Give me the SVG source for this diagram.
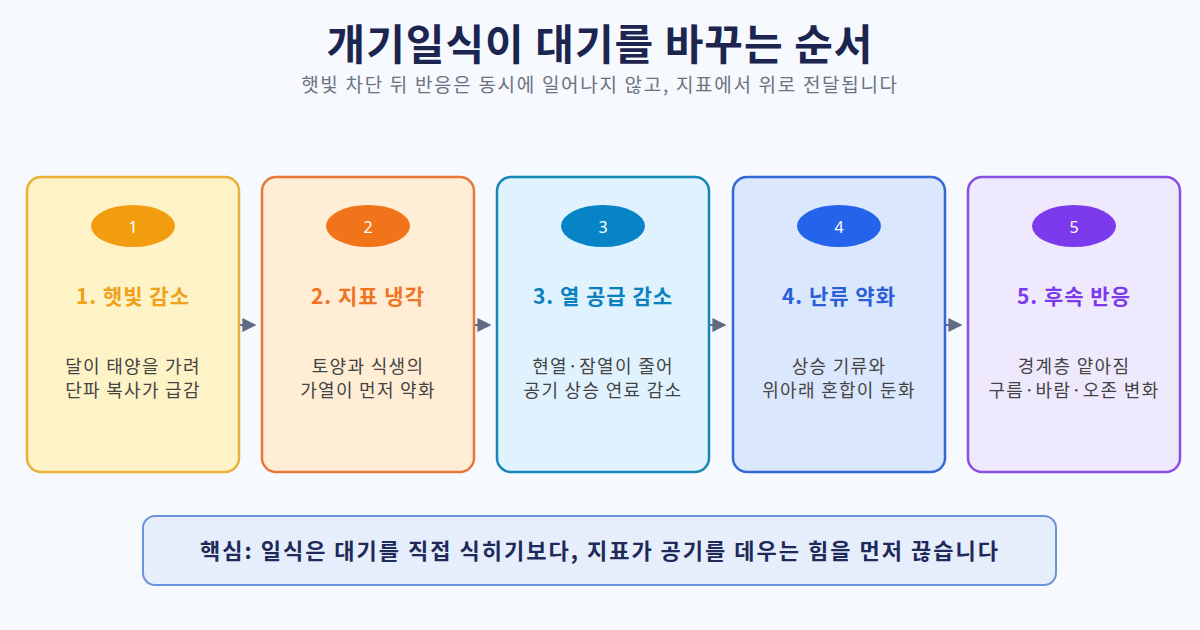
<svg xmlns="http://www.w3.org/2000/svg" width="1200" height="630" viewBox="0 0 1200 630">
<defs>
<style>
.t{font-family:"Noto Sans CJK KR","Noto Sans",sans-serif}
.card{stroke-width:2.5}
.num{font-family:"Noto Sans","Noto Sans CJK KR",sans-serif;font-size:16px;fill:#fff;text-anchor:middle;dominant-baseline:central}
.hd{font-size:21px;font-weight:700;text-anchor:middle;letter-spacing:1px}
.ds{font-size:18px;fill:#444;text-anchor:middle;letter-spacing:1.3px}
</style>
<marker id="ah" viewBox="0 0 10 10" refX="9" refY="5" markerWidth="14" markerHeight="14" markerUnits="userSpaceOnUse" orient="auto">
<path d="M0,0 L10,5 L0,10 Z" fill="#5f6b85"/>
</marker>
</defs>
<rect width="1200" height="630" fill="#f6f9fd"/>
<text class="t" x="600" y="60" text-anchor="middle" font-size="42" font-weight="700" letter-spacing="1" fill="#1c2550">개기일식이 대기를 바꾸는 순서</text>
<text class="t" x="600" y="92" text-anchor="middle" font-size="19" letter-spacing="1.7" fill="#6b7280">햇빛 차단 뒤 반응은 동시에 일어나지 않고, 지표에서 위로 전달됩니다</text>

<g id="connectors">
<line x1="240" y1="325" x2="255" y2="325" stroke="#5f6b85" stroke-width="2" marker-end="url(#ah)"/>
<line x1="475" y1="325" x2="490" y2="325" stroke="#5f6b85" stroke-width="2" marker-end="url(#ah)"/>
<line x1="710" y1="325" x2="725" y2="325" stroke="#5f6b85" stroke-width="2" marker-end="url(#ah)"/>
<line x1="946" y1="325" x2="961" y2="325" stroke="#5f6b85" stroke-width="2" marker-end="url(#ah)"/>
</g>

<g id="step1">
<rect class="card" x="27" y="177" width="212" height="295" rx="14" fill="#fef3c7" stroke="#eab03a"/>
<ellipse cx="133" cy="226" rx="42" ry="21" fill="#f29d0f"/>
<text class="num" x="133" y="227">1</text>
<text class="t hd" x="133" y="304" fill="#f0a01a">1. 햇빛 감소</text>
<text class="t ds" x="133" y="373">달이 태양을 가려</text>
<text class="t ds" x="133" y="397">단파 복사가 급감</text>
</g>

<g id="step2">
<rect class="card" x="262" y="177" width="212" height="295" rx="14" fill="#ffedd5" stroke="#e8773a"/>
<ellipse cx="368" cy="226" rx="42" ry="21" fill="#f2741a"/>
<text class="num" x="368" y="227">2</text>
<text class="t hd" x="368" y="304" fill="#ef7421">2. 지표 냉각</text>
<text class="t ds" x="368" y="373">토양과 식생의</text>
<text class="t ds" x="368" y="397">가열이 먼저 약화</text>
</g>

<g id="step3">
<rect class="card" x="497" y="177" width="212" height="295" rx="14" fill="#e0f2fe" stroke="#1487b5"/>
<ellipse cx="603" cy="226" rx="42" ry="21" fill="#0784c5"/>
<text class="num" x="603" y="227">3</text>
<text class="t hd" x="603" y="304" fill="#0a80be">3. 열 공급 감소</text>
<text class="t ds" x="603" y="373">현열·잠열이 줄어</text>
<text class="t ds" x="603" y="397">공기 상승 연료 감소</text>
</g>

<g id="step4">
<rect class="card" x="733" y="177" width="212" height="295" rx="14" fill="#dbe7fc" stroke="#3468d6"/>
<ellipse cx="839" cy="226" rx="42" ry="21" fill="#2563eb"/>
<text class="num" x="839" y="227">4</text>
<text class="t hd" x="839" y="304" fill="#2a5fd8">4. 난류 약화</text>
<text class="t ds" x="839" y="373">상승 기류와</text>
<text class="t ds" x="839" y="397">위아래 혼합이 둔화</text>
</g>

<g id="step5">
<rect class="card" x="968" y="177" width="212" height="295" rx="14" fill="#efe9fd" stroke="#8b4fe0"/>
<ellipse cx="1074" cy="226" rx="42" ry="21" fill="#7c3aed"/>
<text class="num" x="1074" y="227">5</text>
<text class="t hd" x="1074" y="304" fill="#7c3aed">5. 후속 반응</text>
<text class="t ds" x="1074" y="373">경계층 얕아짐</text>
<text class="t ds" x="1074" y="397">구름·바람·오존 변화</text>
</g>

<g id="summary">
<rect x="143" y="516" width="913" height="69" rx="12" fill="#e6eefc" stroke="#6a93dc" stroke-width="2"/>
<text class="t" x="600" y="559" text-anchor="middle" font-size="22" font-weight="700" letter-spacing="2" fill="#1e2a5a">핵심: 일식은 대기를 직접 식히기보다, 지표가 공기를 데우는 힘을 먼저 끊습니다</text>
</g>
</svg>
